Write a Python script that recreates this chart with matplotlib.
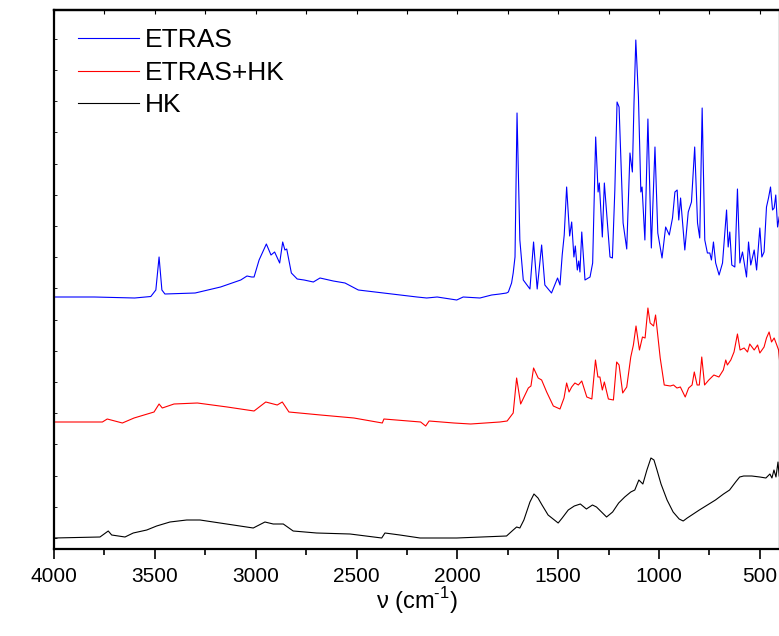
import numpy as np
import matplotlib
matplotlib.use("Agg")
import matplotlib.pyplot as plt

plt.rcParams['font.family'] = ['Liberation Sans', 'DejaVu Sans']
plt.rcParams['mathtext.fontset'] = 'custom'
plt.rcParams['mathtext.rm'] = 'Liberation Sans'

# wavenumber (cm-1) and intensity (arb. units, offset traces)
etras_wn = [4000, 3800, 3600, 3520, 3495, 3479, 3465, 3450, 3300, 3174, 3074, 3043, 3020, 3008,
            2983, 2947, 2924, 2906, 2881, 2866, 2855, 2846, 2823, 2794, 2760, 2714, 2681, 2615,
            2557, 2491, 2367, 2285, 2200, 2152, 2100, 2003, 1971, 1888, 1830, 1789, 1756, 1747,
            1731, 1723, 1714, 1704, 1690, 1673, 1640, 1622, 1604, 1582, 1566, 1533, 1503, 1491,
            1480, 1470, 1458, 1443, 1433, 1422, 1415, 1405, 1398, 1392, 1383, 1367, 1342, 1329,
            1314, 1302, 1296, 1281, 1271, 1259, 1243, 1231, 1219, 1208, 1198, 1178, 1160, 1144,
            1132, 1124, 1115, 1102, 1090, 1084, 1070, 1055, 1038, 1020, 1006, 985, 967, 949,
            933, 921, 910, 902, 893, 872, 855, 839, 823, 809, 798, 786, 773, 760, 748, 740,
            730, 719, 702, 685, 665, 657, 649, 639, 624, 611, 599, 586, 566, 556, 545, 528,
            516, 500, 490, 479, 467, 457, 447, 437, 429, 421, 412, 404]
etras_int = [252, 252, 251, 252.5, 259, 292, 259, 255, 256, 262, 269, 273, 272, 272,
             289, 305, 294, 297, 286, 307, 299, 300, 276, 270, 269, 267, 271, 268,
             266, 259, 256, 254, 252, 251, 252, 249, 252, 251, 254, 255, 256, 257,
             266, 276, 292, 436, 309, 269, 260, 307, 260, 304, 264, 256, 271, 264,
             294, 314, 362, 313, 327, 292, 303, 279, 288, 277, 317, 269, 272, 286,
             412, 357, 366, 312, 366, 334, 292, 291, 359, 447, 442, 326, 300, 396,
             377, 446, 509, 452, 357, 362, 309, 430, 301, 402, 316, 291, 322, 314,
             331, 357, 359, 329, 351, 299, 337, 347, 402, 326, 311, 441, 309, 296, 296, 289,
             307, 286, 274, 286, 339, 302, 317, 284, 282, 360, 286, 297, 272, 307, 284, 299,
             279, 321, 292, 297, 342, 351, 362, 339, 341, 354, 322, 332]

mix_wn = [4000, 3760, 3736, 3661, 3603, 3504, 3479, 3463, 3405, 3289, 3141, 3008, 2950, 2893,
          2868, 2835, 2678, 2513, 2372, 2364, 2182, 2157, 2140, 2017, 1934, 1789, 1753, 1723,
          1706, 1686, 1648, 1635, 1622, 1599, 1582, 1557, 1524, 1491, 1471, 1458, 1446, 1433,
          1417, 1400, 1383, 1358, 1333, 1315, 1303, 1293, 1281, 1271, 1251, 1226, 1210, 1198,
          1180, 1160, 1140, 1127, 1114, 1097, 1082, 1069, 1055, 1044, 1027, 1017, 994, 974,
          944, 928, 911, 894, 870, 853, 836, 825, 811, 800, 788, 774, 753, 728, 703, 681,
          669, 661, 644, 628, 611, 598, 578, 561, 550, 528, 511, 500, 479, 467, 454, 442,
          429, 416, 407, 401]
mix_int = [127, 127, 130, 126, 131, 137, 145, 141, 145, 146, 142, 138, 147, 144,
           147, 137, 134, 131, 126, 130, 127, 123, 128, 126, 125, 127, 128, 136,
           171, 145, 161, 163, 181, 171, 169, 157, 143, 140, 151, 166, 157, 162,
           166, 164, 168, 152, 150, 189, 172, 172, 159, 167, 150, 149, 187, 184,
           156, 162, 192, 204, 223, 199, 212, 211, 241, 226, 223, 234, 191, 164,
           163, 164, 161, 162, 152, 161, 164, 177, 164, 164, 192, 164, 169, 174, 172, 179,
           189, 184, 189, 197, 215, 199, 201, 197, 205, 199, 204, 196, 202, 211, 217, 207,
           211, 204, 199, 186]

hk_wn = [4000, 3772, 3731, 3714, 3648, 3607, 3540, 3491, 3425, 3342, 3276, 3210, 3111, 3012,
         2954, 2913, 2863, 2814, 2698, 2532, 2375, 2359, 2285, 2185, 2003, 1756, 1723, 1706,
         1690, 1670, 1640, 1620, 1600, 1580, 1550, 1500, 1480, 1450, 1420, 1390, 1360, 1330,
         1310, 1280, 1260, 1230, 1200, 1170, 1140, 1120, 1100, 1080, 1060, 1040, 1025, 1010,
         990, 960, 930, 900, 880, 860, 830, 800, 760, 720, 680, 650, 620, 600, 580, 540,
         500, 470, 450, 440, 430, 420, 410, 404]
hk_int = [11, 12, 18, 14, 12, 16, 19, 23, 27, 29, 29, 27, 24, 21,
          27, 25, 25, 18, 16, 15, 11, 16, 14, 11, 11, 13, 19, 22,
          21, 29, 47, 55, 51, 44, 34, 26, 31, 39, 43, 45, 40, 44,
          42, 36, 32, 37, 46, 52, 57, 59, 69, 65, 79, 91, 89, 79,
          65, 49, 37, 30, 28, 31, 35, 39, 44, 49, 55, 59, 67, 72, 73, 73,
          72, 71, 75, 71, 79, 72, 87, 73]

major_ticks = [4000, 3500, 3000, 2500, 2000, 1500, 1000, 500]
minor_ticks = [3750, 3250, 2750, 2250, 1750, 1250, 750]

fig = plt.figure(figsize=(7.79, 6.36), dpi=100)
ax = fig.add_axes([54 / 779, 87 / 636, 726 / 779, 539 / 636])

ax.plot(etras_wn, etras_int, color='#0000ff', lw=0.8, label='ETRAS')
ax.plot(mix_wn, mix_int, color='#ff0000', lw=0.8, label='ETRAS+HK')
ax.plot(hk_wn, hk_int, color='black', lw=0.8, label='HK')

ax.set_xlim(4000, 400)
ax.set_ylim(0, 539)
ax.set_xticks(major_ticks)
ax.set_xticks(minor_ticks, minor=True)
ax.set_yticks(np.arange(11, 539, 31.2))
ax.set_yticklabels([])

for s in ax.spines.values():
    s.set_linewidth(1.6)
ax.tick_params(axis='x', which='major', direction='out', length=7, width=1.2,
               labelsize=15, pad=6)
ax.tick_params(axis='x', which='minor', direction='out', length=4, width=1.2)
ax.tick_params(axis='y', direction='in', length=2, width=0.6, left=True)

# small inward ticks on the top edge
top = ax.secondary_xaxis('top')
top.set_xticks(major_ticks)
top.set_xticks(minor_ticks, minor=True)
top.tick_params(which='both', direction='in', length=3, width=0.8, labeltop=False)
top.spines['top'].set_linewidth(1.6)

ax.set_xlabel('ν (cm$^{\\text{-1}}$)', fontsize=17, labelpad=-1)

ax.legend(loc='upper left', frameon=False, fontsize=19, handlelength=2.3,
          handletextpad=0.22, labelspacing=0.32, borderaxespad=0.3,
          bbox_to_anchor=(6 / 726, 1.0))

fig.savefig('out.png', dpi=100)
